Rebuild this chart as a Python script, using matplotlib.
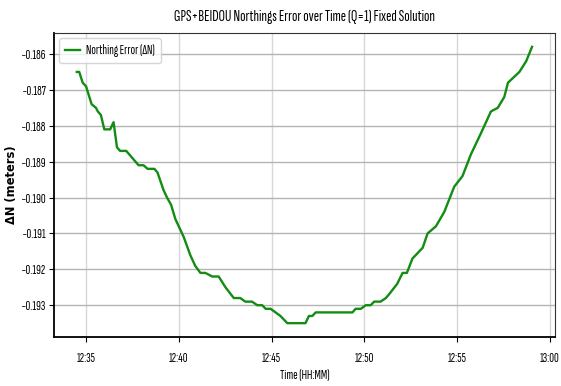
import matplotlib
matplotlib.use("Agg")
import matplotlib.pyplot as plt
import matplotlib.dates as mdates
import pandas as pd

times = ["12:34:30", "12:34:38", "12:34:49", "12:35:00", "12:35:18", "12:35:32",
         "12:35:38", "12:35:48", "12:35:59", "12:36:07", "12:36:18", "12:36:29",
         "12:36:40", "12:36:50", "12:37:10", "12:37:50", "12:38:06", "12:38:19",
         "12:38:41", "12:38:51", "12:39:11", "12:39:22", "12:39:35", "12:39:49",
         "12:40:16", "12:40:37", "12:40:53", "12:41:10", "12:41:26", "12:41:48",
         "12:42:09", "12:42:31", "12:42:58", "12:43:19", "12:43:35", "12:43:57",
         "12:44:14", "12:44:30", "12:44:41", "12:44:57", "12:45:13", "12:45:29",
         "12:45:40", "12:45:51", "12:46:50", "12:47:01", "12:47:12", "12:47:23",
         "12:49:22", "12:49:32", "12:49:49", "12:50:05", "12:50:21", "12:50:32",
         "12:50:53", "12:51:10", "12:51:20", "12:51:47", "12:52:04", "12:52:18",
         "12:52:36", "12:53:09", "12:53:25", "12:53:52", "12:54:19", "12:54:51",
         "12:55:18", "12:55:45", "12:56:18", "12:56:50", "12:57:12", "12:57:33",
         "12:57:45", "12:58:22", "12:58:44", "12:59:03"]
northing_error = [-0.1865, -0.1865, -0.1868, -0.1869, -0.1874, -0.1875,
                  -0.1876, -0.1877, -0.1881, -0.1881, -0.1881, -0.1879,
                  -0.1886, -0.1887, -0.1887, -0.1891, -0.1891, -0.1892,
                  -0.1892, -0.1893, -0.1898, -0.1900, -0.1902, -0.1906,
                  -0.1911, -0.1916, -0.1919, -0.1921, -0.1921, -0.1922,
                  -0.1922, -0.1925, -0.1928, -0.1928, -0.1929, -0.1929,
                  -0.1930, -0.1930, -0.1931, -0.1931, -0.1932, -0.1933,
                  -0.1934, -0.1935, -0.1935, -0.1933, -0.1933, -0.1932,
                  -0.1932, -0.1931, -0.1931, -0.1930, -0.1930, -0.1929,
                  -0.1929, -0.1928, -0.1927, -0.1924, -0.1921, -0.1921,
                  -0.1917, -0.1914, -0.1910, -0.1908, -0.1904, -0.1897,
                  -0.1894, -0.1888, -0.1882, -0.1876, -0.1875, -0.1872,
                  -0.1868, -0.1865, -0.1862, -0.1858]

title = "GPS+BEIDOU Northings Error over Time (Q=1) Fixed Solution"
series_label = "Northing Error (ΔN)"

plt.rcParams["font.family"] = ["Sofia Sans Extra Condensed", "DejaVu Sans"]

t = pd.to_datetime(["2024-01-01 " + s for s in times])

fig = plt.figure(figsize=(5.61, 3.86), dpi=100)
ax = fig.add_axes([0.0963, 0.127, 0.8927, 0.7875])
ax.plot(t, northing_error, color="#138c13", lw=1.7, label=series_label)
ax.set_title(title, fontsize=11.5, pad=9)
ax.set_xlabel("Time (HH:MM)", fontsize=9.5, labelpad=4)
ax.set_ylabel("ΔN (meters)", fontsize=8.3, fontweight="bold",
              family=["DejaVu Sans"], labelpad=2)
ax.xaxis.set_major_locator(mdates.MinuteLocator(byminute=range(0, 60, 5)))
ax.xaxis.set_major_formatter(mdates.DateFormatter("%H:%M"))
ax.tick_params(labelsize=9.5, length=3.5)
ax.tick_params(axis="x", pad=7)
ax.tick_params(axis="y", pad=2)
ax.grid(True, axis="y", color="#b4b4b4", lw=1.0)
ax.grid(True, axis="x", color="#d8d8d8", lw=1.0)
for side in ("top", "right"):
    ax.spines[side].set_color("#333333")
for side in ("left", "bottom"):
    ax.spines[side].set_color("black")
    ax.spines[side].set_linewidth(1.3)
ax.legend(loc="upper left", fontsize=9.5, borderaxespad=0.4, handlelength=1.1,
          handletextpad=0.5, borderpad=0.45)

fig.savefig("out.png", dpi=100)
